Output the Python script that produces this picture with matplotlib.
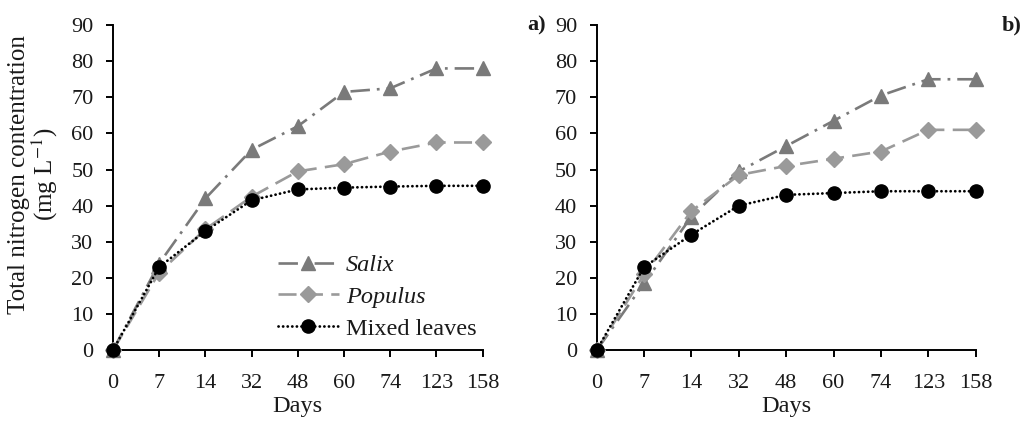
import matplotlib
matplotlib.use("Agg")
import matplotlib.pyplot as plt

plt.rcParams["font.family"] = ["Liberation Serif", "DejaVu Serif"]
plt.rcParams["mathtext.fontset"] = "stix"
plt.rcParams["lines.scale_dashes"] = False

days = ["0", "7", "14", "32", "48", "60", "74", "123", "158"]

salix_a = [0, 24, 42, 55.5, 62, 71.5, 72.5, 78, 78]
populus_a = [0, 21.5, 33.5, 42.5, 49.5, 51.5, 55, 57.5, 57.5]
mixed_a = [0, 23, 33, 41.5, 44.5, 45, 45.3, 45.5, 45.5]

salix_b = [0, 18.5, 37, 49.5, 56.5, 63.5, 70.5, 75, 75]
populus_b = [0, 21, 38.5, 48.5, 51, 53, 55, 61, 61]
mixed_b = [0, 23, 32, 40, 43, 43.5, 44, 44, 44]

GREY_DARK = "#7a7a7a"
GREY_LIGHT = "#9a9a9a"
TXT = "#1a1a1a"


def draw(ax, salix, populus, mixed, tag, tag_x):
    x = range(len(days))
    ax.plot(x, salix, color=GREY_DARK, lw=1.9, ls=(0, (14, 5, 2, 5)),
            marker="^", ms=9.5, label="Salix", clip_on=False, zorder=3)
    ax.plot(x, populus, color=GREY_LIGHT, lw=1.9, ls=(0, (13, 6)),
            marker="D", ms=8.5, label="Populus", clip_on=False, zorder=3)
    ax.plot(x, mixed, color="black", lw=2.0, ls=(0, (0.1, 3.2)),
            dash_capstyle="round", marker="o", ms=9.5, label="Mixed leaves",
            clip_on=False, zorder=4)
    ax.set_xlim(0, len(days) - 1)
    ax.set_ylim(0, 90)
    ax.set_yticks(range(0, 91, 10))
    ax.set_xticks(list(x))
    ax.set_xticklabels(days)
    for s in ("top", "right"):
        ax.spines[s].set_visible(False)
    for s in ("left", "bottom"):
        ax.spines[s].set_linewidth(1.4)
    ax.tick_params(direction="out", length=5, width=1.4, labelsize=16,
                   labelcolor=TXT)
    ax.tick_params(axis="x", pad=12)
    ax.tick_params(axis="y", pad=9)
    ax.set_xlabel("Days", fontsize=17.5, color=TXT, labelpad=2.5)
    ax.text(tag_x, 1.0, tag, transform=ax.transAxes, fontsize=16,
            fontweight="bold", ha="right", va="center", color=TXT)


fig = plt.figure(figsize=(10.27, 4.25), dpi=100)
ax1 = fig.add_axes([0.110, 0.176, 0.360, 0.765])
ax2 = fig.add_axes([0.581, 0.176, 0.369, 0.765])

draw(ax1, salix_a, populus_a, mixed_a, "a)", 1.17)
draw(ax2, salix_b, populus_b, mixed_b, "b)", 1.12)

ax1.set_ylabel("Total nitrogen contentration\n(mg L$^{\\mathrm{-1}}$)", fontsize=18,
               color=TXT, linespacing=1.0)
ax1.yaxis.set_label_coords(-0.142, 0.54)

leg = ax1.legend(loc="lower right", bbox_to_anchor=(1.03, -0.02), frameon=False,
                 fontsize=17.5, handlelength=2.5, handletextpad=0.3,
                 labelspacing=0.4, numpoints=1, borderaxespad=0.3)
for t in leg.get_texts():
    t.set_color(TXT)
for t in leg.get_texts()[:2]:
    t.set_fontstyle("italic")

fig.savefig("out.png", dpi=100)
